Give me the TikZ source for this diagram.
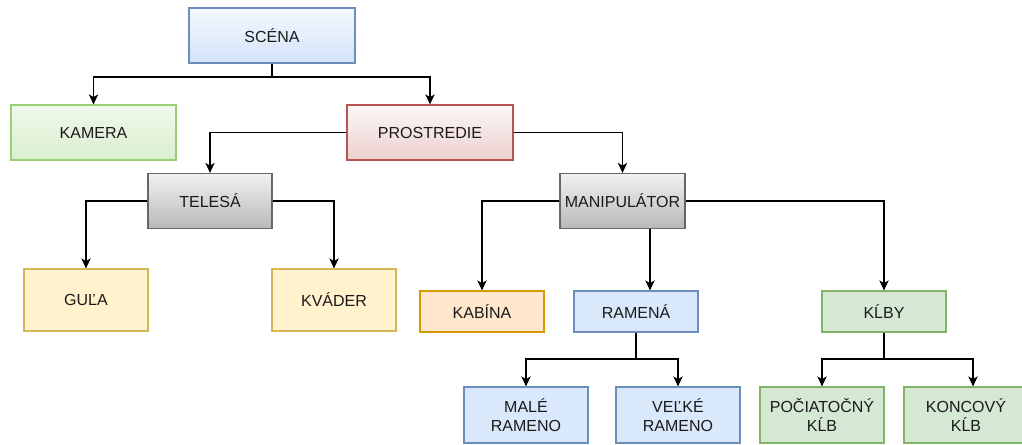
\documentclass[tikz,border=0pt]{standalone}
\usepackage{fontspec}
\setmainfont{Liberation Sans}
\usetikzlibrary{arrows.meta}
\definecolor{txt}{HTML}{1A1A1A}
\definecolor{blueF}{HTML}{DAE8FC}\definecolor{blueS}{HTML}{6C8EBF}
\definecolor{greenF}{HTML}{D5E8D4}\definecolor{greenS}{HTML}{82B366}
\definecolor{yelF}{HTML}{FFF2CC}\definecolor{yelS}{HTML}{D6B656}
\definecolor{orF}{HTML}{FFE6CC}\definecolor{orS}{HTML}{D79B00}
\definecolor{limeS}{HTML}{97D077}
\definecolor{redS}{HTML}{B85450}
\definecolor{grayS}{HTML}{666666}
\tikzset{
  box/.style={draw, line width=0.9pt, inner sep=0pt, align=center, text=txt,
    font=\fontsize{12}{14.4}\selectfont},
  bluegrad/.style={box, draw=blueS, top color=white!70!blueF, bottom color=blueF!95!blueS},
  limegrad/.style={box, draw=limeS, top color=white!85!limeS, bottom color=white!65!limeS},
  redgrad/.style={box, draw=redS, top color=white!96!redS, bottom color=white!72!redS},
  graygrad/.style={box, draw=grayS, top color=black!5, bottom color=black!28},
  bluebox/.style={box, draw=blueS, fill=blueF},
  greenbox/.style={box, draw=greenS, fill=greenF},
  yelbox/.style={box, draw=yelS, fill=yelF},
  orbox/.style={box, draw=orS, fill=orF},
  arr/.style={draw=black, line width=0.9pt, -{Stealth[length=7.5pt,width=7pt,inset=2pt]}},
  ln/.style={draw=black, line width=0.9pt},
}
\begin{document}
\begin{tikzpicture}[x=0.75pt,y=-0.75pt]
\useasboundingbox (0,0) rectangle (1022,445);
\clip (0,0) rectangle (1022,445);
\fill[white] (0,0) rectangle (1022,445);

% top levels
\node[bluegrad, minimum width=124.5pt, minimum height=41.25pt] (scena) at (272,35.5) {SCÉNA};
\node[limegrad, minimum width=123.75pt, minimum height=41.25pt] (kamera) at (93.5,132.5) {KAMERA};
\node[redgrad, minimum width=124.5pt, minimum height=41.25pt] (prostredie) at (430,132.5) {PROSTREDIE};

% second level
\node[graygrad, minimum width=93pt, minimum height=41.25pt] (telesa) at (210,201) {TELESÁ};
\node[graygrad, minimum width=93.75pt, minimum height=41.25pt] (manip) at (622.5,201) {MANIPULÁTOR};

% bodies
\node[yelbox, minimum width=93pt, minimum height=46.5pt] (gula) at (86,300) {GUĽA};
\node[yelbox, minimum width=93pt, minimum height=46.5pt] (kvader) at (334,300) {KVÁDER};

% manipulator parts
\node[orbox, minimum width=93pt, minimum height=30.75pt] (kabina) at (482,311.5) {KABÍNA};
\node[bluebox, minimum width=93pt, minimum height=30.75pt] (ramena) at (636,311.5) {RAMENÁ};
\node[greenbox, minimum width=93pt, minimum height=30.75pt] (klby) at (884,311.5) {KĹBY};

% lowest level
\node[bluebox, minimum width=93pt, minimum height=42pt] (male) at (526,415) {MALÉ\\RAMENO};
\node[bluebox, minimum width=93pt, minimum height=42pt] (velke) at (678,415) {VEĽKÉ\\RAMENO};
\node[greenbox, minimum width=93pt, minimum height=42pt] (pociat) at (822,415) {POČIATOČNÝ\\KĹB};
\node[greenbox, minimum width=93pt, minimum height=42pt] (koncovy) at (966,415) {KONCOVÝ\\KĹB};

% connectors
\coordinate (j0) at (272,77);
\draw[ln] (scena.south) -- (j0);
\draw[arr] (j0) -| (kamera.north);
\draw[arr] (j0) -| (prostredie.north);

\draw[arr] (prostredie.west) -| (telesa.north);
\draw[arr] (prostredie.east) -| (manip.north);

\draw[arr] (telesa.west) -| (gula.north);
\draw[arr] (telesa.east) -| (kvader.north);

\draw[arr] (manip.west) -| (kabina.north);
\draw[arr] (manip.south -| 650,0) -- (ramena.north -| 650,0);
\draw[arr] (manip.east) -| (klby.north);

\coordinate (j1) at (636,359);
\draw[ln] (ramena.south) -- (j1);
\draw[arr] (j1) -| (male.north);
\draw[arr] (j1) -| (velke.north);

\coordinate (j2) at (884,359);
\draw[ln] (klby.south) -- (j2);
\draw[arr] (j2) -| (pociat.north);
\draw[arr] (j2) -| (koncovy.north -| 973,0);
\end{tikzpicture}
\end{document}
